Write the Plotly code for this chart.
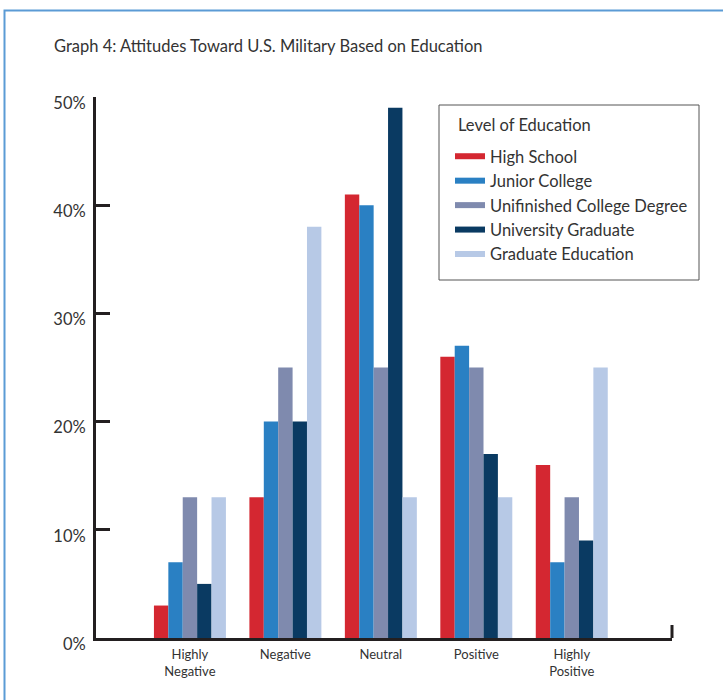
import plotly.graph_objects as go

categories = ["Highly<br>Negative", "Negative", "Neutral", "Positive", "Highly<br>Positive"]
series_names = ["High School", "Junior College", "Unifinished College Degree",
                "University Graduate", "Graduate Education"]
high_school = [3, 13, 41, 26, 16]
junior_college = [7, 20, 40, 27, 7]
unfinished_college = [13, 25, 25, 25, 13]
university_graduate = [5, 20, 49, 17, 9]
graduate_education = [13, 38, 13, 13, 25]
y_tick_values = [0, 10, 20, 30, 40, 50]
y_tick_labels = ["0%", "10%", "20%", "30%", "40%", "50%"]

colors = ["#D42731", "#2A80C3", "#7F8AAE", "#0A3A62", "#B7C9E6"]
all_values = [high_school, junior_college, unfinished_college, university_graduate, graduate_education]

FONT = "Lato"
TXT = "#333333"
AX = "#231F20"

fig = go.Figure()
for name, vals, col in zip(series_names, all_values, colors):
    fig.add_trace(go.Bar(x=categories, y=vals, name=name, marker=dict(color=col, line=dict(width=0)),
                         showlegend=False))
# legend proxies with wide line symbols
for name, col in zip(series_names, colors):
    fig.add_trace(go.Scatter(x=[None], y=[None], mode="lines", name=name,
                             line=dict(color=col, width=6)))

W, H = 723, 700
L, R, T, B = 96, 723 - 672, 97, 700 - 638
pw, ph = W - L - R, H - T - B

def px_x(x):
    return (x - L) / pw

def px_y(y):
    return (H - B - y) / ph

fig.update_layout(
    width=W, height=H,
    margin=dict(l=L, r=R, t=T, b=B, pad=0),
    paper_bgcolor="white", plot_bgcolor="white",
    barmode="group", bargap=0.246, bargroupgap=0,
    font=dict(family=FONT, color=TXT),
    title=dict(text="Graph 4: Attitudes Toward U.S. Military Based on Education",
               x=54 / W, xanchor="left", y=1 - 46 / H, yanchor="middle",
               font=dict(size=16.5, family=FONT, color=TXT)),
    legend=dict(x=px_x(450), y=px_y(139), xanchor="left", yanchor="top",
                borderwidth=0, bgcolor="rgba(0,0,0,0)",
                font=dict(size=16.5, family=FONT, color=TXT),
                itemwidth=30, traceorder="normal"),
    xaxis=dict(type="category", range=[-0.984, 5.05], showline=True, linewidth=3, linecolor=AX,
               ticks="", showgrid=False, zeroline=False, ticklabelstandoff=2,
               tickfont=dict(size=13, family=FONT, color=TXT)),
    yaxis=dict(range=[0, 50], tickvals=y_tick_values, ticktext=y_tick_labels,
               showline=True, linewidth=3, linecolor=AX, ticks="inside", ticklen=14,
               tickwidth=3, tickcolor=AX, showgrid=False, zeroline=False,
               ticklabelstandoff=4, ticklabelshift=6,
               tickfont=dict(size=16.5, family=FONT, color=TXT)),
    annotations=[
        dict(text="Level of Education", xref="paper", yref="paper", x=px_x(456), y=px_y(125),
             xanchor="left", yanchor="middle", showarrow=False,
             font=dict(size=16.5, family=FONT, color=TXT)),
    ],
    shapes=[
        dict(type="line", xref="paper", yref="paper", x0=1, x1=1, y0=0, y1=13 / ph,
             line=dict(color=AX, width=3)),
        dict(type="rect", xref="paper", yref="paper", x0=px_x(439), x1=px_x(699),
             y0=px_y(280), y1=px_y(105), line=dict(color="#555555", width=1),
             fillcolor="white", layer="below"),
        dict(type="rect", xref="paper", yref="paper", x0=px_x(4.5), x1=px_x(760),
             y0=px_y(760), y1=px_y(10.5), line=dict(color="#5B9BD5", width=2),
             fillcolor="rgba(0,0,0,0)", layer="below"),
    ],
)

fig.write_html("out.html", config={"displayModeBar": False},
               post_script="document.body.style.margin='0px';document.body.style.overflow='hidden';")
